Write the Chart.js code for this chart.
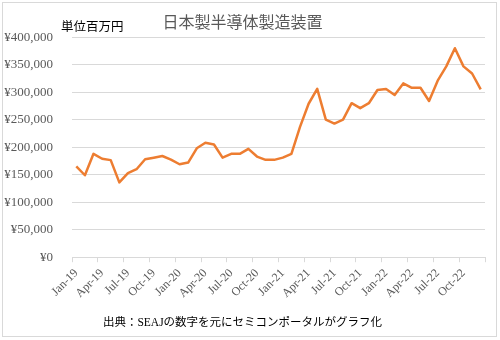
<!DOCTYPE html>
<html>
<head>
<meta charset="utf-8">
<script src="https://cdn.jsdelivr.net/npm/chart.js@4/dist/chart.umd.min.js"></script>
<style>
	body { margin: 0; background: #fff; }
	canvas { display: block; }
</style>
</head>
<body>
<canvas id="chart" width="500" height="340"></canvas>
<script>
// 日本製半導体製造装置 販売額（単位百万円）, Jan-19 .. Dec-22
const years = [ '19', '20', '21', '22' ];
const monthNames = [ 'Jan', 'Feb', 'Mar', 'Apr', 'May', 'Jun', 'Jul', 'Aug', 'Sep', 'Oct', 'Nov', 'Dec' ];
const sales = [
	165000, 149000, 188000, 179000, 176500, 136000, 153000, 160000, 178000, 181000, 184000, 177500,
	169000, 172000, 198000, 208000, 205000, 181000, 188000, 188000, 197000, 183000, 177000, 177000,
	181000, 188000, 237000, 279000, 306000, 250000, 243000, 250000, 280000, 271000, 280000, 304000,
	306000, 295000, 316000, 308000, 308000, 284000, 321000, 347000, 380000, 347000, 334000, 305000
];
const yTicks = { min: 0, max: 400000, step: 50000 };
const chartTitle = '日本製半導体製造装置';
const unitText = '単位百万円';
const sourceText = '出典：SEAJの数字を元にセミコンポータルがグラフ化';

const labels = [];
years.forEach( ( y ) => monthNames.forEach( ( m ) => labels.push( m + '-' + y ) ) );

const FONT = "'Liberation Serif', 'Noto Sans CJK JP', serif";
const GRID = '#d9d9d9';

const frameAndUnit = {
	id: 'frameAndUnit',
	beforeDraw: ( chart ) => {
		const ctx = chart.ctx;
		ctx.save();
		ctx.fillStyle = '#fff';
		ctx.fillRect( 0, 0, chart.width, chart.height );
		ctx.restore();
	},
	afterDraw: ( chart ) => {
		const ctx = chart.ctx;
		ctx.save();
		ctx.strokeStyle = GRID;
		ctx.lineWidth = 1;
		ctx.strokeRect( 2.5, 2.5, 494, 334 );
		ctx.fillStyle = '#000';
		ctx.font = '12.5px ' + FONT;
		ctx.textBaseline = 'middle';
		ctx.fillText( unitText, 61, 28 );
		ctx.restore();
	}
};

new Chart( document.getElementById( 'chart' ), {
	type: 'line',
	data: {
		labels: labels,
		datasets: [ {
			data: sales,
			borderColor: '#ED7D31',
			borderWidth: 2.5,
			borderJoinStyle: 'round',
			pointRadius: 0,
			tension: 0,
			fill: false
		} ]
	},
	options: {
		responsive: false,
		animation: false,
		layout: { padding: { left: 0, right: 15, top: 0, bottom: 10 } },
		plugins: {
			legend: { display: false },
			tooltip: { enabled: false },
			title: {
				display: true,
				text: chartTitle,
				color: '#595959',
				font: { family: FONT, size: 16, weight: 'normal' },
				padding: { top: 14, bottom: 4 }
			},
			subtitle: {
				display: true,
				position: 'bottom',
				text: sourceText,
				color: '#000',
				font: { family: FONT, size: 11.5, weight: 'normal' },
				padding: { top: 6, bottom: 0 }
			}
		},
		scales: {
			x: {
				offset: true,
				grid: {
					offset: true,
					drawOnChartArea: false,
					drawTicks: true,
					tickLength: 5,
					color: ( ctx ) => ( ctx.index === undefined || ctx.index % 3 === 0 ) ? GRID : 'rgba(0,0,0,0)'
				},
				border: { color: GRID },
				ticks: {
					autoSkip: false,
					minRotation: 45,
					maxRotation: 45,
					padding: 4,
					color: '#595959',
					font: { family: FONT, size: 12 },
					callback: ( v, i ) => i % 3 === 0 ? labels[ i ] : ''
				},
				afterFit: ( scale ) => { scale.height = 53; }
			},
			y: {
				min: yTicks.min,
				max: yTicks.max,
				grid: { color: GRID, drawTicks: false },
				border: { display: false },
				ticks: {
					stepSize: yTicks.step,
					padding: 19,
					color: '#595959',
					font: { family: FONT, size: 13 },
					callback: ( v ) => '¥' + v.toLocaleString( 'en-US' )
				},
				afterFit: ( scale ) => { scale.width = 72; }
			}
		}
	},
	plugins: [ frameAndUnit ]
} );
</script>
</body>
</html>
